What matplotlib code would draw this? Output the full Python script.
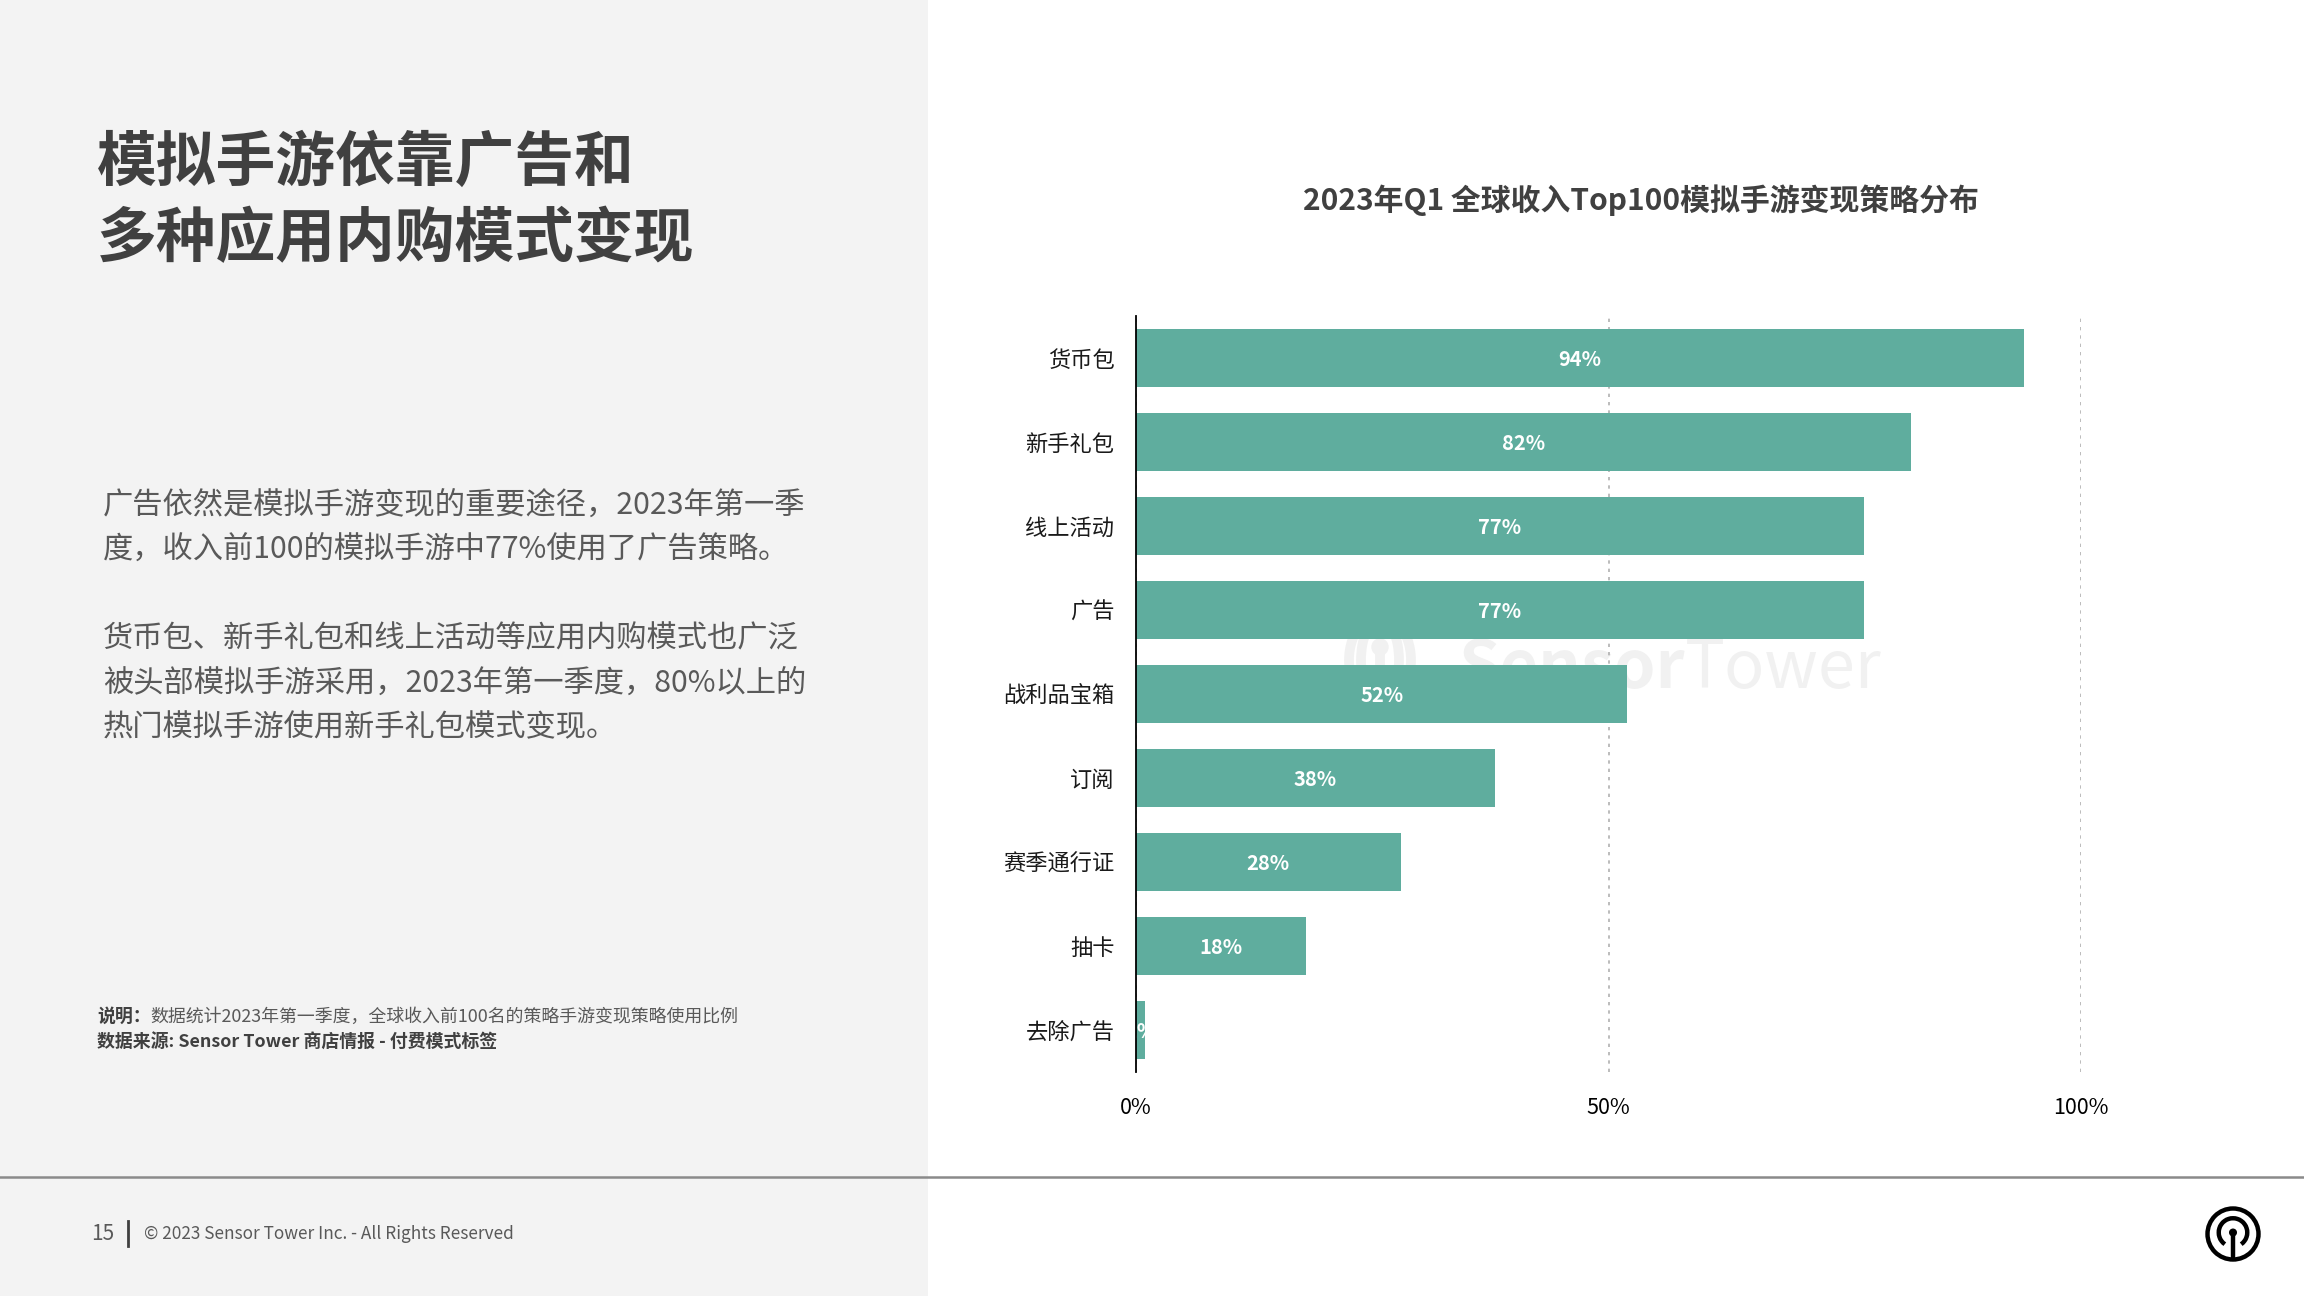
import matplotlib
matplotlib.use("Agg")
import matplotlib.pyplot as plt
from matplotlib.patches import Rectangle, Circle, Arc

plt.rcParams['font.family'] = ['Noto Sans CJK SC', 'DejaVu Sans']

# data
categories = ['货币包', '新手礼包', '线上活动', '广告', '战利品宝箱', '订阅', '赛季通行证', '抽卡', '去除广告']
shares = [94, 82, 77, 77, 52, 38, 28, 18, 1]
xticks = [0, 50, 100]
xtick_labels = ['0%', '50%', '100%']

title_lines = ['模拟手游依靠广告和', '多种应用内购模式变现']
body_lines = ['广告依然是模拟手游变现的重要途径，2023年第一季',
              '度，收入前100的模拟手游中77%使用了广告策略。',
              '',
              '货币包、新手礼包和线上活动等应用内购模式也广泛',
              '被头部模拟手游采用，2023年第一季度，80%以上的',
              '热门模拟手游使用新手礼包模式变现。']
chart_title = '2023年Q1 全球收入Top100模拟手游变现策略分布'

W, H = 2304, 1296
BAR = '#5fad9e'
DARK = '#404040'
GREY = '#595959'
WM = '#f1f1f1'

fig = plt.figure(figsize=(W / 100, H / 100), dpi=100)
fig.patch.set_facecolor('white')


def fx(x):
    return x / W


def fy(y):
    return 1 - y / H


# left grey panel and footer line
fig.add_artist(Rectangle((0, 0), fx(928), 1, transform=fig.transFigure,
                         facecolor='#f3f3f3', edgecolor='none', zorder=0))
fig.add_artist(plt.Line2D([0, 1], [fy(1177), fy(1177)], transform=fig.transFigure,
                          color='#8a8a8a', lw=1.8))

# headline
for i, line in enumerate(title_lines):
    fig.text(fx(97), fy(164 + i * 76), line, fontsize=43, fontweight='bold',
             color=DARK, va='center', ha='left')

# body text
y = 505
for line in body_lines:
    if line:
        fig.text(fx(103), fy(y), line, fontsize=21.8, color=GREY, va='center', ha='left')
    y += 44.5

# notes
fig.text(fx(97), fy(1017), '说明：', fontsize=12.9, fontweight='bold', color=DARK, va='center')
fig.text(fx(150), fy(1017), '数据统计2023年第一季度，全球收入前100名的策略手游变现策略使用比例',
         fontsize=12.9, color=GREY, va='center')
fig.text(fx(97), fy(1043), '数据来源: Sensor Tower 商店情报 - 付费模式标签',
         fontsize=12.9, fontweight='bold', color=DARK, va='center')

# footer
fig.text(fx(91), fy(1234), '15', fontsize=15, color=GREY, va='center')
fig.add_artist(plt.Line2D([fx(128), fx(128)], [fy(1221), fy(1246)], transform=fig.transFigure,
                          color=DARK, lw=2))
fig.text(fx(144), fy(1234), '© 2023 Sensor Tower Inc. - All Rights Reserved',
         fontsize=12.4, color=GREY, va='center')

# logo icon bottom right
ax_icon = fig.add_axes([fx(2203), fy(1264), fx(60), 60 / H])
ax_icon.set_xlim(-1, 1)
ax_icon.set_ylim(-1, 1)
ax_icon.set_aspect('equal')
ax_icon.axis('off')
ax_icon.add_patch(Circle((0, 0), 0.85, fill=False, lw=3.2, color='black'))
ax_icon.add_patch(Arc((0, 0.05), 0.95, 0.95, theta1=-55, theta2=235, lw=3.2, color='black'))
ax_icon.plot([0, 0], [0.05, -0.85], color='black', lw=3.2, solid_capstyle='butt')
ax_icon.add_patch(Circle((0, 0.05), 0.11, color='black'))

# chart title
fig.text(fx(1641), fy(200), chart_title, fontsize=21.5, fontweight='bold', color=DARK,
         ha='center', va='center')

# watermark layer (below the chart axes)
ax_wm = fig.add_axes([fx(1300), fy(720), fx(620), 100 / H], zorder=0)
ax_wm.set_xlim(0, 620)
ax_wm.set_ylim(100, 0)
ax_wm.axis('off')
ax_wm.text(385, 68, 'Tower', fontsize=48, fontweight='light', color=WM,
           ha='left', va='baseline')
ax_wm.text(385, 68, 'Sensor', fontsize=48, fontweight='bold', color=WM,
           ha='right', va='baseline')
# logo: keyhole with two pairs of brackets
for r, lw in [(38, 7), (62, 7)]:
    ax_wm.add_patch(Arc((80, 40), r, 70 + r * 0.3, theta1=115, theta2=245, lw=lw, color=WM))
    ax_wm.add_patch(Arc((80, 40), r, 70 + r * 0.3, theta1=-65, theta2=65, lw=lw, color=WM))
ax_wm.add_patch(Circle((80, 27), 8, color=WM))
ax_wm.plot([80, 80], [27, 72], color=WM, lw=7)

# bar chart
ax = fig.add_axes([fx(1136), fy(1072), fx(945), 756 / H], zorder=1)
ypos = list(range(len(categories)))
ax.barh(ypos, shares, height=0.7, color=BAR, zorder=2)
for yp, v in zip(ypos, shares):
    ax.text(v / 2, yp + 0.02, f'{v}%', color='white', fontsize=14.5, fontweight='semibold',
            ha='center', va='center', zorder=3)

ax.set_xlim(0, 100)
ax.set_ylim(len(categories) - 0.5, -0.5)
ax.set_xticks(xticks)
ax.set_xticklabels(xtick_labels, fontsize=15.5)
ax.set_yticks(ypos)
ax.set_yticklabels(categories, fontsize=16, fontweight='medium', color='#1a1a1a')
ax.tick_params(axis='both', length=0)
ax.tick_params(axis='x', pad=18)
ax.tick_params(axis='y', pad=15.5)
ax.xaxis.grid(True, linestyle=(0, (2, 3)), color='#b0b0b0', lw=1.2, zorder=0)
ax.set_axisbelow(True)
for s in ['top', 'right', 'bottom']:
    ax.spines[s].set_visible(False)
ax.spines['left'].set_color('black')
ax.spines['left'].set_linewidth(1.3)
ax.spines['left'].set_zorder(4)
ax.set_facecolor('none')

fig.savefig('out.png', dpi=100)
